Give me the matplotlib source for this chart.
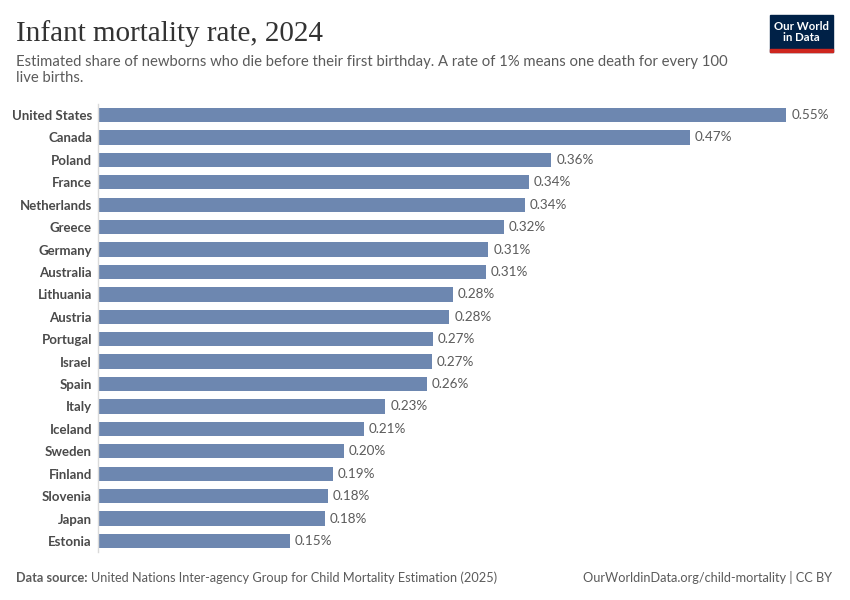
import matplotlib.pyplot as plt
from matplotlib.patches import Rectangle

# Data (infant mortality, % of live births)
countries = ["United States", "Canada", "Poland", "France", "Netherlands",
             "Greece", "Germany", "Australia", "Lithuania", "Austria",
             "Portugal", "Israel", "Spain", "Italy", "Iceland",
             "Sweden", "Finland", "Slovenia", "Japan", "Estonia"]
rates = [0.548, 0.471, 0.361, 0.343, 0.340,
         0.323, 0.311, 0.309, 0.283, 0.280,
         0.267, 0.266, 0.262, 0.229, 0.212,
         0.196, 0.187, 0.183, 0.181, 0.153]

title = "Infant mortality rate, 2024"
subtitle = ("Estimated share of newborns who die before their first birthday. "
            "A rate of 1% means one death for every 100\nlive births.")
source = "United Nations Inter-agency Group for Child Mortality Estimation (2025)"
credit = "OurWorldinData.org/child-mortality | CC BY"

plt.rcParams['font.family'] = ['Lato', 'DejaVu Sans']

W, H = 850, 600
fig = plt.figure(figsize=(W / 100, H / 100), dpi=100)

# axes placed in pixel terms: bars start at x=97.5, rows from y=104 to 552
left_px, top_px, bot_px = 97.5, 104, 552
ax = fig.add_axes([left_px / W, 1 - bot_px / H, 1 - left_px / W, (bot_px - top_px) / H])
ypos = list(range(len(countries)))
ax.barh(ypos, rates, height=0.64, color="#6d87b0", edgecolor="none")
ax.set_xlim(0, (W - left_px) / 1257)
ax.set_ylim(len(countries) - 0.51, -0.49)

for y, v in zip(ypos, rates):
    ax.annotate(f"{v:.2f}%", (v, y), xytext=(3.5, 0), textcoords="offset points",
                va="center", ha="left", fontsize=9.7, color="#5b5b5b")

ax.set_yticks(ypos)
ax.set_yticklabels(countries, fontsize=9.5, color="#4a4a4a", fontweight="bold")
ax.tick_params(axis="y", length=0, pad=4)
ax.set_xticks([])
for side in ["top", "right", "bottom"]:
    ax.spines[side].set_visible(False)
ax.spines["left"].set_color("#dadada")
ax.spines["left"].set_linewidth(1)

# header
fig.text(16 / W, 1 - 41 / H, title, fontsize=21, color="#333333",
         family=["Liberation Serif", "DejaVu Serif"], va="baseline")
fig.text(16 / W, 1 - 55 / H, subtitle, fontsize=10.7, color="#5b5b5b",
         va="top", linespacing=1.22)

# logo
fig.patches.append(Rectangle((770 / W, 1 - 52 / H), 63 / W, 37 / H,
                             transform=fig.transFigure, color="#002147"))
fig.patches.append(Rectangle((770 / W, 1 - 52 / H), 63 / W, 3 / H,
                             transform=fig.transFigure, color="#ce261e"))
fig.text(801.5 / W, 1 - 32 / H, "Our World\nin Data", fontsize=8.2, color="white",
         ha="center", va="center", linespacing=1.05, fontweight="bold")

# footer
t = fig.text(16 / W, 1 - 582 / H, "Data source: ", fontsize=9.2, color="#5b5b5b",
             fontweight="bold", va="baseline")
fig.canvas.draw()
bb = t.get_window_extent()
fig.text(bb.x1 / W, 1 - 582 / H, source, fontsize=9.2, color="#5b5b5b", va="baseline")
fig.text(832 / W, 1 - 582 / H, credit, fontsize=9.2, color="#5b5b5b",
         ha="right", va="baseline")

fig.savefig("out.png", dpi=100)
